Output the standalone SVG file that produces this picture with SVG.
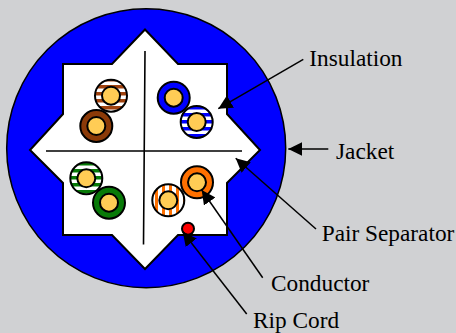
<svg xmlns="http://www.w3.org/2000/svg" width="456" height="333" viewBox="0 0 456 333">
<style>
.o{stroke:#000;stroke-width:2}
.c{fill:#ffcc55;stroke:#000;stroke-width:2}
.s{fill:#fff;stroke:#000;stroke-width:2}
.l{fill:none;stroke:#000;stroke-width:1.6}
.a{fill:none;stroke:#000;stroke-width:1.5;marker-end:url(#h)}
text{font-family:"Liberation Serif","Times New Roman",serif;font-size:23.3px;fill:#000}
</style>
<defs>
<marker id="h" markerUnits="userSpaceOnUse" markerWidth="16" markerHeight="16" refX="14" refY="7" orient="auto"><path d="M0 0L14 7L0 14Z" fill="#000"/></marker>
<pattern id="sb" patternUnits="userSpaceOnUse" width="7" height="7" y="1"><rect width="7" height="7" fill="#fff"/><rect width="7" height="3.5" fill="#a0420e"/></pattern>
<pattern id="sl" patternUnits="userSpaceOnUse" width="7" height="7" y="1"><rect width="7" height="7" fill="#fff"/><rect width="7" height="3.5" fill="#0000ff"/></pattern>
<pattern id="sg" patternUnits="userSpaceOnUse" width="7" height="7" y="1"><rect width="7" height="7" fill="#fff"/><rect width="7" height="3.5" fill="#087a08"/></pattern>
<pattern id="so" patternUnits="userSpaceOnUse" width="7" height="7" x="1"><rect width="7" height="7" fill="#fff"/><rect width="3" height="7" fill="#ff7000"/></pattern>
</defs>
<rect width="456" height="333" fill="#d0d1d3"/>
<g id="jacket"><circle cx="146.2" cy="148.2" r="139.5" fill="#0000ff" stroke="#000" stroke-width="1.5"/></g>
<g id="separator">
<path class="s" d="M145 29.5L112 64H63V114L30 150L63 183V235H112L145 269L178 235H227V183L260 150L227 114V64H178Z"/>
<path class="l" d="M46 151H242M145 51L143.5 244.5"/>
</g>
<g id="wire-white-brown"><circle class="o" cx="111" cy="95.7" r="16" fill="url(#sb)"/><circle class="c" cx="111" cy="95.7" r="9"/></g>
<g id="wire-brown"><circle class="o" cx="96.3" cy="126" r="16" fill="#8b3a08"/><circle class="c" cx="96.3" cy="126" r="9"/></g>
<g id="wire-blue"><circle class="o" cx="173.7" cy="97.7" r="16" fill="#0000ff"/><circle class="c" cx="173.7" cy="97.7" r="9"/></g>
<g id="wire-white-blue"><circle class="o" cx="196.7" cy="122" r="16" fill="url(#sl)"/><circle class="c" cx="196.7" cy="122" r="9"/></g>
<g id="wire-white-green"><circle class="o" cx="86.3" cy="178.3" r="16" fill="url(#sg)"/><circle class="c" cx="86.3" cy="178.3" r="9"/></g>
<g id="wire-green"><circle class="o" cx="109" cy="202.7" r="16" fill="#087a08"/><circle class="c" cx="109" cy="202.7" r="9"/></g>
<g id="wire-white-orange"><circle class="o" cx="168.3" cy="200.3" r="16" fill="url(#so)"/><circle class="c" cx="168.3" cy="200.3" r="9"/></g>
<g id="wire-orange"><circle class="o" cx="197" cy="182.3" r="16" fill="#ff7000"/><circle class="c" cx="197" cy="182.3" r="9"/></g>
<g id="rip-cord"><circle class="o" cx="188" cy="228.7" r="6" fill="#ff0000"/></g>
<g id="connectors">
<path class="a" d="M303.3 59.3L218.3 108.7"/>
<path class="a" d="M328.3 149H288.3"/>
<path class="a" d="M316 229L235.7 158.3"/>
<path class="a" d="M262.7 277.7L201.7 190"/>
<path class="a" d="M246.7 314L182.7 231.7"/>
</g>
<g id="label-insulation"><text x="309.3" y="66">Insulation</text></g>
<g id="label-jacket"><text x="336" y="159">Jacket</text></g>
<g id="label-pair-separator"><text x="321.7" y="241">Pair Separator</text></g>
<g id="label-conductor"><text x="271" y="291">Conductor</text></g>
<g id="label-rip-cord"><text x="253" y="328">Rip Cord</text></g>
</svg>
